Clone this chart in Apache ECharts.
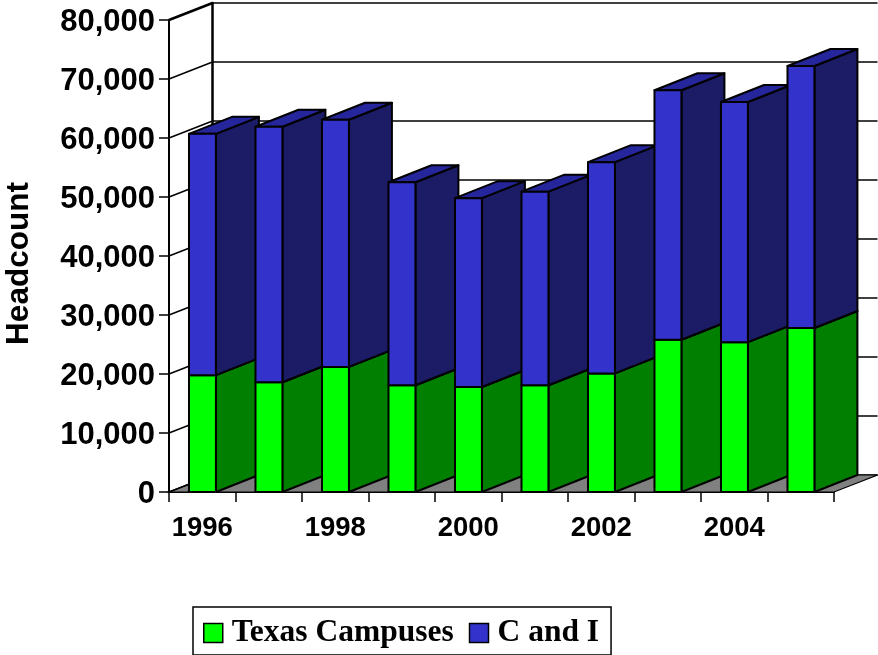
<!DOCTYPE html>
<html>
<head>
<meta charset="utf-8">
<title>Headcount</title>
<script src="https://cdn.jsdelivr.net/npm/echarts@6/dist/echarts.min.js"></script>
<style>
  html, body { margin: 0; padding: 0; background: #fff; }
  #chart { width: 878px; height: 655px; }
</style>
</head>
<body>
<div id="chart"></div>
<script>
const years = ['1996', '1997', '1998', '1999', '2000', '2001', '2002', '2003', '2004', '2005'];
const texasCampuses = [19800, 18600, 21200, 18100, 17800, 18100, 20100, 25800, 25400, 27800];
const cAndI = [40900, 43300, 41900, 34400, 32000, 32800, 35800, 42300, 40700, 44400];
const yTicks = [0, 10000, 20000, 30000, 40000, 50000, 60000, 70000, 80000];

// 3d look: how far the back wall sits from the front plane, in px
const depthX = 43.5;
const depthY = -17;
const barDepthX = 43;
const barRatio = 0.405;

const font = 'Liberation Sans';

const poly = (points, fill, z2) => ({
  type: 'polygon',
  z2: z2,
  shape: {points: points},
  style: {fill: fill, stroke: '#000', lineWidth: 2, lineJoin: 'round'}
});

const renderBar = (front, side, top) => (params, api) => {
  const idx = api.value(0);
  const start = api.coord([idx, api.value(1)]);
  const end = api.coord([idx, api.value(2)]);
  const w = api.size([1, 0])[0] * barRatio;
  const x0 = start[0] - w / 2 + 0.2;
  const x1 = start[0] + w / 2 + 0.2;
  const z = 10 + idx * 10 + (api.value(1) > 0 ? 1 : 0);
  return {
    type: 'group',
    children: [
      poly([[x1, start[1]], [x1 + barDepthX, start[1] + depthY], [x1 + barDepthX, end[1] + depthY], [x1, end[1]]], side, z),
      poly([[x0, end[1]], [x1, end[1]], [x1 + barDepthX, end[1] + depthY], [x0 + barDepthX, end[1] + depthY]], top, z),
      poly([[x0, start[1]], [x1, start[1]], [x1, end[1]], [x0, end[1]]], front, z)
    ]
  };
};

// side wall lines running from the value axis to the back wall
const renderWallLine = (params, api) => {
  const p = api.coord([0, api.value(0)]);
  const x = params.coordSys.x;
  const isTop = params.dataIndex === yTicks.length - 1;
  return {
    type: 'line',
    z2: 2,
    shape: {x1: x, y1: p[1], x2: x + depthX, y2: p[1] + depthY},
    style: {stroke: '#000', lineWidth: isTop ? 2.5 : 1.5}
  };
};

const renderFloor = (params) => {
  const c = params.coordSys;
  const y = c.y + c.height;
  return {
    type: 'polygon',
    z2: 1,
    shape: {points: [[c.x, y], [c.x + c.width, y], [c.x + c.width + depthX, y + depthY], [c.x + depthX, y + depthY]]},
    style: {fill: '#808080', stroke: '#000', lineWidth: 1.2}
  };
};

const myChart = echarts.init(document.getElementById('chart'));

const option = {
  animation: false,
  backgroundColor: '#fff',
  textStyle: {fontFamily: font},
  graphic: [
    {
      type: 'text',
      x: 19,
      y: 263.5,
      rotation: Math.PI / 2,
      style: {
        text: 'Headcount',
        fontFamily: font,
        fontWeight: 'bold',
        fontSize: 31.5,
        fill: '#000',
        align: 'center',
        verticalAlign: 'middle'
      }
    }
  ],
  legend: {
    left: 193,
    top: 607,
    padding: [10, 12, 6, 10],
    borderColor: '#000',
    borderWidth: 1.5,
    itemWidth: 19,
    itemHeight: 19,
    itemGap: 15,
    data: [
      {name: 'Texas Campuses', icon: 'rect', itemStyle: {color: '#00ff00', borderColor: '#000', borderWidth: 1.5}},
      {name: 'C and I', icon: 'rect', itemStyle: {color: '#3333cc', borderColor: '#000', borderWidth: 1.5}}
    ],
    textStyle: {
      fontFamily: 'Liberation Serif',
      fontWeight: 'bold',
      fontSize: 31.5,
      color: '#000',
      padding: [0, 0, 0, 4]
    }
  },
  grid: [
    {left: 169, top: 20, width: 665, height: 472},
    {left: 169 + depthX, top: 20 + depthY, width: 665, height: 472}
  ],
  xAxis: [
    {
      type: 'category',
      gridIndex: 0,
      data: years,
      axisLine: {lineStyle: {color: '#000', width: 2}},
      axisTick: {show: true, length: 10, interval: 0, lineStyle: {color: '#000', width: 1.5}},
      axisLabel: {interval: 1, margin: 22, color: '#000', fontFamily: font, fontWeight: 'bold', fontSize: 27.5}
    },
    {
      type: 'category',
      gridIndex: 1,
      data: years,
      axisLine: {show: false},
      axisTick: {show: false},
      axisLabel: {show: false}
    }
  ],
  yAxis: [
    {
      type: 'value',
      gridIndex: 0,
      min: 0,
      max: 80000,
      interval: 10000,
      axisLine: {show: true, lineStyle: {color: '#000', width: 2}},
      axisTick: {show: true, length: 10, lineStyle: {color: '#000', width: 1.5}},
      axisLabel: {
        margin: 14,
        verticalAlign: 'top',
        lineHeight: 5,
        color: '#000',
        fontFamily: font,
        fontWeight: 'bold',
        fontSize: 31,
        formatter: (v) => v.toLocaleString('en-US')
      },
      splitLine: {show: false}
    },
    {
      type: 'value',
      gridIndex: 1,
      min: 0,
      max: 80000,
      interval: 10000,
      axisLine: {show: true, lineStyle: {color: '#000', width: 2.5}},
      axisTick: {show: false},
      axisLabel: {show: false},
      splitLine: {show: true, lineStyle: {color: '#000', width: 1.5}}
    }
  ],
  series: [
    {
      type: 'custom',
      name: 'wall',
      xAxisIndex: 0,
      yAxisIndex: 0,
      silent: true,
      renderItem: renderWallLine,
      data: yTicks.map(v => [v]),
      encode: {y: 0}
    },
    {
      type: 'custom',
      name: 'floor',
      xAxisIndex: 0,
      yAxisIndex: 0,
      silent: true,
      renderItem: renderFloor,
      data: [[0]]
    },
    {
      type: 'custom',
      name: 'Texas Campuses',
      xAxisIndex: 0,
      yAxisIndex: 0,
      itemStyle: {color: '#00ff00'},
      renderItem: renderBar('#00ff00', '#007f00', '#00bf00'),
      data: years.map((y, i) => [i, 0, texasCampuses[i]]),
      encode: {x: 0, y: [1, 2]}
    },
    {
      type: 'custom',
      name: 'C and I',
      xAxisIndex: 0,
      yAxisIndex: 0,
      itemStyle: {color: '#3333cc'},
      renderItem: renderBar('#3333cc', '#1b1b66', '#26269c'),
      data: years.map((y, i) => [i, texasCampuses[i], texasCampuses[i] + cAndI[i]]),
      encode: {x: 0, y: [1, 2]}
    }
  ]
};

myChart.setOption(option);
</script>
</body>
</html>
